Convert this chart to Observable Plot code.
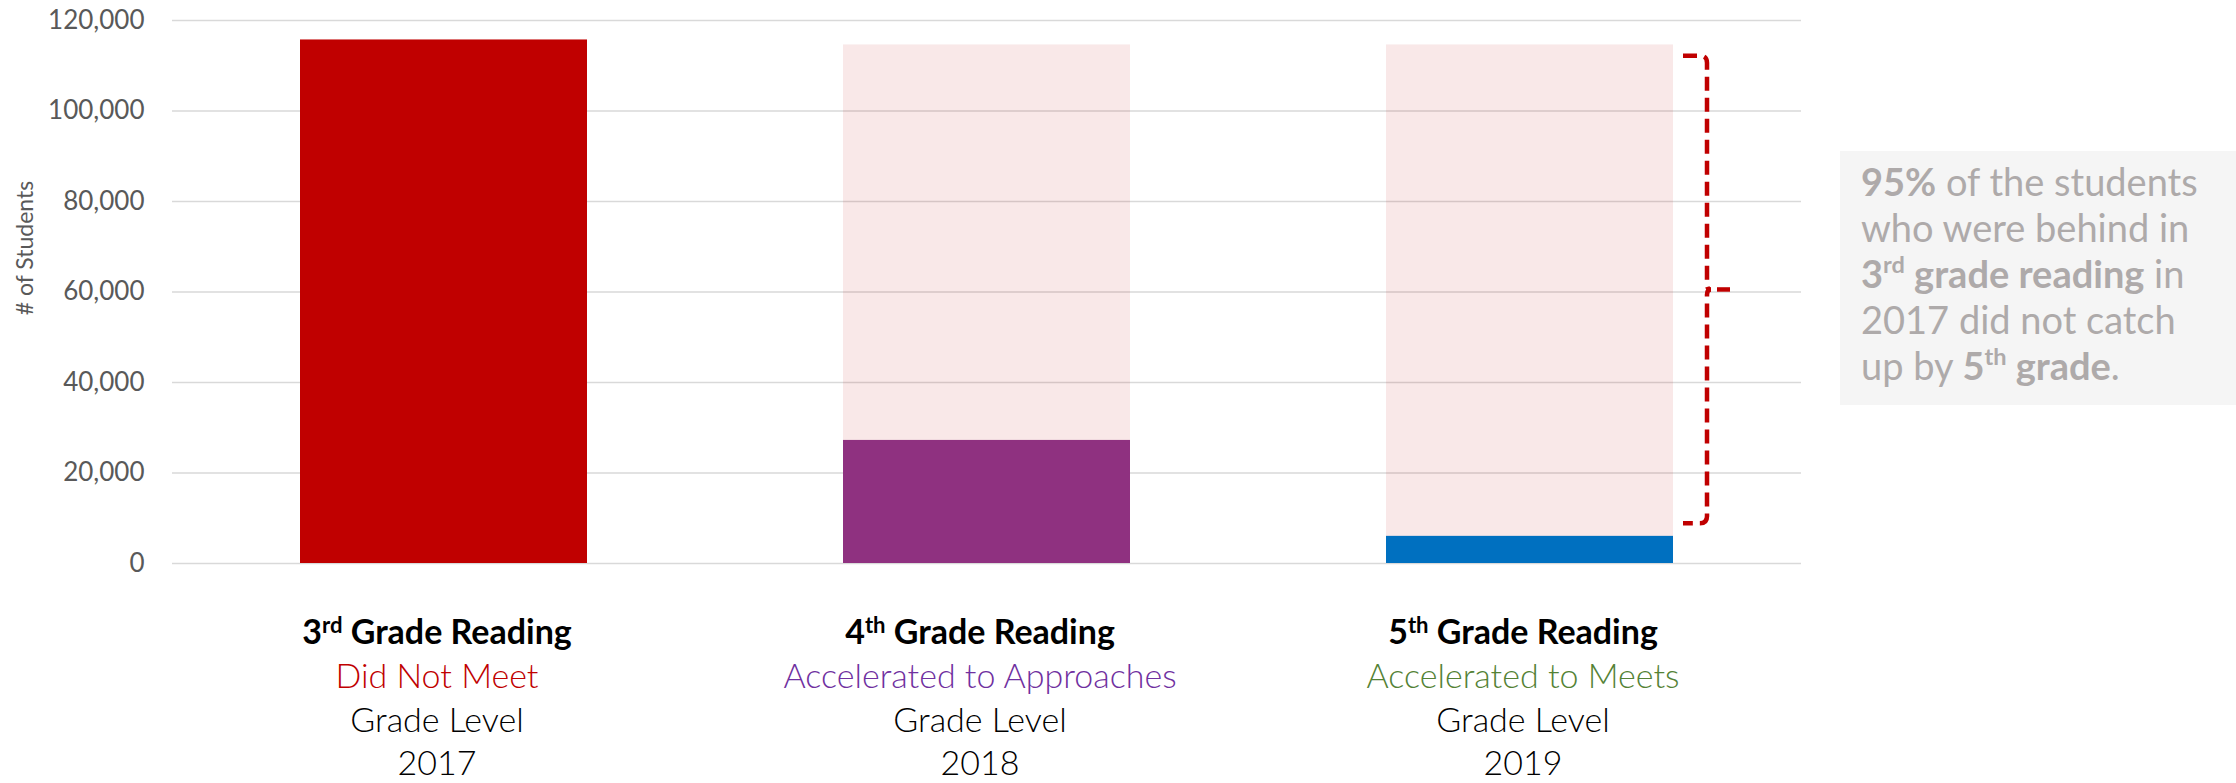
<!DOCTYPE html>
<html>
<head>
<meta charset="utf-8">
<script src="https://cdn.jsdelivr.net/npm/d3@7"></script>
<script src="https://cdn.jsdelivr.net/npm/@observablehq/plot@0.6"></script>
<style>
html, body { margin: 0; padding: 0; background: #fff; }
#wrap { position: relative; width: 2236px; height: 783px; overflow: hidden; font-family: Lato, sans-serif; }
#note { position: absolute; left: 1840px; top: 151px; width: 396px; height: 254px; background: #f5f5f5;
  box-sizing: border-box; padding: 7px 0 0 21px; color: #AEAAAA; font-size: 38px; line-height: 46px;
  font-weight: 400; white-space: nowrap; }
#note b { font-weight: 700; }
#note sup { font-size: 0.62em; line-height: 0; vertical-align: baseline; position: relative; top: -0.62em; }
</style>
</head>
<body>
<div id="wrap">
  <div id="chart"></div>
  <div id="note"><b>95%</b> of the students<br>who were behind in<br><b>3<sup>rd</sup> grade reading</b> in<br>2017 did not catch<br>up by <b>5<sup>th</sup> grade</b>.</div>
</div>
<script>
// ---- data ----
const categories = ["3rd Grade Reading", "4th Grade Reading", "5th Grade Reading"];
const statuses = ["Did Not Meet", "Accelerated to Approaches", "Accelerated to Meets"];
const levelLabel = "Grade Level";
const years = ["2017", "2018", "2019"];
const students = [115700, 27200, 6000];
const cohortBackground = [null, 114600, 114600];
const yTicks = [0, 20000, 40000, 60000, 80000, 100000, 120000];
const yLabel = "# of Students";
const bracketRange = [8800, 112100];

// ---- styles ----
const barColors = ["#C00000", "#8F3180", "#0070C0"];
const statusColors = ["#C00000", "#7030A0", "#548235"];

const rows = categories.map((c, i) => ({
  category: c, status: statuses[i], level: levelLabel, year: years[i],
  students: students[i], cohort: cohortBackground[i],
  barColor: barColors[i], statusColor: statusColors[i]
}));

const labelFont = 34;
const chart = Plot.plot({
  width: 2236,
  height: 783,
  marginTop: 20,
  marginBottom: 220,
  marginLeft: 172,
  marginRight: 435,
  style: { fontFamily: "Lato, sans-serif", fontSize: "26px", color: "#595959", background: "white" },
  color: { type: "identity" },
  x: { domain: categories, paddingInner: 0.4715, paddingOuter: 0.2357, align: 0.5, axis: null },
  y: { domain: [0, 120000], ticks: yTicks, tickFormat: d3.format(","), tickSize: 0, tickPadding: 28, label: null },
  marks: [
    Plot.ruleY(yTicks, { stroke: "#d9d9d9", strokeWidth: 1.7 }),
    Plot.barY(rows.filter(d => d.cohort != null), { x: "category", y: "cohort", fill: "#C00000", fillOpacity: 0.09 }),
    Plot.barY(rows, { x: "category", y: "students", fill: "barColor" }),
    Plot.text(rows, { x: "category", text: "category", frameAnchor: "bottom", lineAnchor: "bottom",
      dy: 80, dx: -7, fontSize: labelFont, fontWeight: "bold", fill: "black" }),
    Plot.text(rows, { x: "category", text: "status", frameAnchor: "bottom", lineAnchor: "bottom",
      dy: 124, dx: -7, fontSize: labelFont, fontWeight: 300, fill: "statusColor" }),
    Plot.text(rows, { x: "category", text: "level", frameAnchor: "bottom", lineAnchor: "bottom",
      dy: 168, dx: -7, fontSize: labelFont, fontWeight: 300, fill: "black" }),
    Plot.text(rows, { x: "category", text: "year", frameAnchor: "bottom", lineAnchor: "bottom",
      dy: 211, dx: -7, fontSize: labelFont, fontWeight: 300, fill: "black" }),
    Plot.text([yLabel], { text: d => d, frameAnchor: "left", dx: -147, dy: -44, rotate: -90,
      fontSize: 23, fill: "#595959", textAnchor: "middle" })
  ]
});
document.getElementById("chart").appendChild(chart);

// superscript ordinals (3rd, 4th, 5th)
d3.select(chart).selectAll("text").each(function () {
  if (this.querySelector("tspan")) return;
  const m = /^(\d+)(st|nd|rd|th)(\s.*)$/.exec(this.textContent);
  if (!m) return;
  this.textContent = "";
  const s = d3.select(this);
  s.append("tspan").text(m[1]);
  s.append("tspan").attr("font-size", "0.65em").attr("dy", -11).text(m[2]);
  s.append("tspan").attr("dy", 11).text(m[3]);
});

// dashed bracket next to the 5th grade bar, positioned through the plot's scales
const xs = chart.scale("x"), ys = chart.scale("y");
const xApply = xs.apply ? (v => xs.apply(v)) : (v => d3.scaleBand(xs.domain, xs.range).paddingInner(0.4715).paddingOuter(0.2357)(v));
const bw = xs.bandwidth;
const yApply = ys.apply ? (v => ys.apply(v)) : d3.scaleLinear(ys.domain, ys.range);
const xr = xApply(categories[2]) + bw;
const xv = xr + 34, xh = xr + 10, xn = xr + 57;
const yt = yApply(bracketRange[1]), yb = yApply(bracketRange[0]), ym = (yt + yb) / 2;
const r = 7;
const g = d3.select(chart).append("g").attr("fill", "none").attr("stroke", "#C00000")
  .attr("stroke-width", 4.5).attr("stroke-dasharray", "14 7");
g.append("path").attr("d",
  `M${xh},${yt} L${xv - r},${yt} Q${xv},${yt} ${xv},${yt + r} L${xv},${ym - 5} Q${xv},${ym} ${xv + 4},${ym}` +
  ` Q${xv},${ym} ${xv},${ym + 5} L${xv},${yb - r} Q${xv},${yb} ${xv - r},${yb} L${xh},${yb}`);
g.append("path").attr("stroke-dasharray", null).attr("d", `M${xv + 10},${ym} L${xn},${ym}`);
</script>
</body>
</html>
